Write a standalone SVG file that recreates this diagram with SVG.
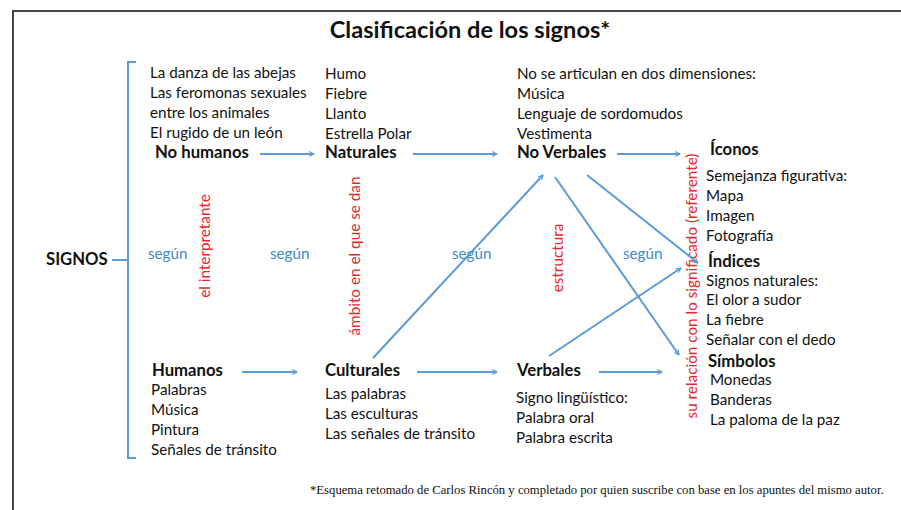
<svg xmlns="http://www.w3.org/2000/svg" width="901" height="510" viewBox="0 0 901 510">
<style>
text{font-family:Lato,"Liberation Sans",sans-serif;font-size:15.2px;fill:#111}
.b{font-weight:bold;font-size:16.7px}
.t{font-weight:bold;font-size:23.6px}
.s{fill:#3a8cc6;font-size:15.2px}
.r{fill:#e8262a;font-size:15.3px}
.fn{font-family:"Liberation Serif",serif;font-size:12.7px}
.c{stroke:#5b9bd5;stroke-width:2;fill:none;marker-end:url(#ah)}
</style>
<defs>
<marker id="ah" viewBox="0 0 10 10" refX="9" refY="5" markerWidth="6" markerHeight="6" orient="auto" markerUnits="userSpaceOnUse">
<path d="M1,1 L9,5 L1,9" fill="none" stroke="#5b9bd5" stroke-width="1.8"/>
</marker>
</defs>
<rect width="901" height="510" fill="#fff"/>
<path d="M13,510 V11 H901" fill="none" stroke="#444" stroke-width="2"/>
<text class="t" x="470" y="38" text-anchor="middle">Clasificación de los signos*</text>

<g id="signos">
<text class="b" x="46" y="265">SIGNOS</text>
<path d="M112,260 H128 M136,62 H128 V458 H136" fill="none" stroke="#5b9bd5" stroke-width="2"/>
</g>

<g id="nohumanos">
<text x="150" y="78">La danza de las abejas</text>
<text x="150" y="98">Las feromonas sexuales</text>
<text x="150" y="118">entre los animales</text>
<text x="150" y="138">El rugido de un león</text>
<text class="b" x="155" y="158">No humanos</text>
</g>
<g id="naturales">
<text x="325" y="79">Humo</text>
<text x="325" y="99">Fiebre</text>
<text x="325" y="119">Llanto</text>
<text x="325" y="139">Estrella Polar</text>
<text class="b" x="325" y="158">Naturales</text>
</g>
<g id="noverbales">
<text x="517" y="79">No se articulan en dos dimensiones:</text>
<text x="517" y="99">Música</text>
<text x="517" y="119">Lenguaje de sordomudos</text>
<text x="517" y="139">Vestimenta</text>
<text class="b" x="517" y="158">No Verbales</text>
</g>
<g id="iconos">
<text class="b" x="710" y="155">Íconos</text>
<text x="706" y="181">Semejanza figurativa:</text>
<text x="706" y="201">Mapa</text>
<text x="706" y="221">Imagen</text>
<text x="706" y="241">Fotografía</text>
</g>
<g id="indices">
<text class="b" x="708" y="267">Índices</text>
<text x="706" y="286">Signos naturales:</text>
<text x="706" y="305">El olor a sudor</text>
<text x="706" y="325">La fiebre</text>
<text x="706" y="345">Señalar con el dedo</text>
</g>
<g id="simbolos">
<text class="b" x="708" y="367">Símbolos</text>
<text x="710" y="385">Monedas</text>
<text x="710" y="405">Banderas</text>
<text x="710" y="425">La paloma de la paz</text>
</g>
<g id="humanos">
<text class="b" x="152" y="376">Humanos</text>
<text x="151" y="395">Palabras</text>
<text x="151" y="415">Música</text>
<text x="151" y="435">Pintura</text>
<text x="151" y="455">Señales de tránsito</text>
</g>
<g id="culturales">
<text class="b" x="325" y="376">Culturales</text>
<text x="325" y="399">Las palabras</text>
<text x="325" y="419">Las esculturas</text>
<text x="325" y="439">Las señales de tránsito</text>
</g>
<g id="verbales">
<text class="b" x="517" y="376">Verbales</text>
<text x="516" y="403">Signo lingüístico:</text>
<text x="516" y="423">Palabra oral</text>
<text x="516" y="443">Palabra escrita</text>
</g>

<g id="labels">
<text class="s" x="148" y="259">según</text>
<text class="s" x="270" y="259">según</text>
<text class="s" x="452" y="259">según</text>
<text class="s" x="623" y="259">según</text>
<text class="r" transform="translate(210,246) rotate(-90)" text-anchor="middle">el interpretante</text>
<text class="r" transform="translate(360,256) rotate(-90)" text-anchor="middle">ámbito en el que se dan</text>
<text class="r" transform="translate(563,258) rotate(-90)" text-anchor="middle">estructura</text>
<text class="r" transform="translate(697,286) rotate(-90)" text-anchor="middle">su relación con lo significado (referente)</text>
</g>

<g id="connectors">
<line class="c" x1="260" y1="154" x2="314" y2="154"/>
<line class="c" x1="413" y1="154" x2="497" y2="154"/>
<line class="c" x1="617" y1="154" x2="680" y2="154"/>
<line class="c" x1="242" y1="372" x2="297" y2="372"/>
<line class="c" x1="417" y1="372" x2="497" y2="372"/>
<line class="c" x1="599" y1="372" x2="662" y2="372"/>
<line class="c" x1="373" y1="358" x2="543" y2="175"/>
<line class="c" x1="555" y1="177" x2="679" y2="355"/>
<line class="c" x1="587" y1="175" x2="698" y2="263"/>
<line class="c" x1="549" y1="356" x2="681" y2="268"/>
</g>

<text class="fn" x="310" y="494">*Esquema retomado de Carlos Rincón y completado por quien  suscribe con base en los apuntes del mismo autor.</text>
</svg>
